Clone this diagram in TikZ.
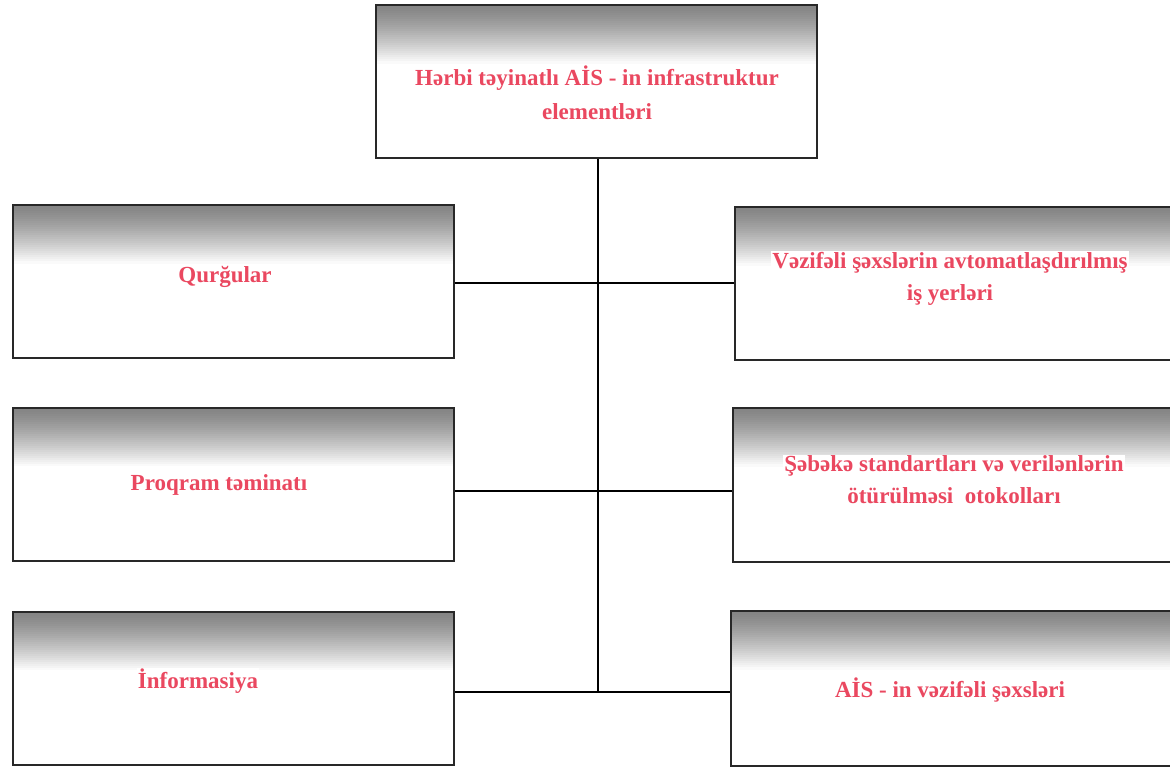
\documentclass[tikz,border=0pt]{standalone}
\usepackage{fontspec}
\setmainfont{Liberation Serif}
\definecolor{txtred}{RGB}{234,72,96}
\definecolor{edge}{RGB}{40,40,40}
\begin{document}
\begin{tikzpicture}[x=1pt,y=-1pt,
  box/.style={draw=edge,line width=2pt,rectangle,minimum width=441pt,minimum height=153pt,inner sep=0pt,
    path picture={\foreach \i in {0,...,28}{
        \pgfmathsetmacro{\p}{max(0,48*(1-(\i/29)^1.3))}
        \fill[black!\p] ([yshift={-2*\i*1pt}]path picture bounding box.north west)
          rectangle ([yshift={-2*\i*1pt-2.6pt}]path picture bounding box.north east);}}},
  lbl/.style={text=txtred,font=\fontsize{23}{32}\selectfont\bfseries,align=center,fill=white,inner sep=1pt},
  conn/.style={draw=black,line width=1.5pt}]
\useasboundingbox (0,0) rectangle (1170,769);
\node[box] (top) at (596.5,81.5) {};
\node[box] (l1) at (233.5,281.5) {};
\node[box] (l2) at (233.5,484) {};
\node[box] (l3) at (233.5,688) {};
\node[box,minimum width=441pt,minimum height=153pt] (r1) at (955.5,283.5) {};
\node[box,minimum width=443pt,minimum height=154pt] (r2) at (954.5,485) {};
\node[box,minimum width=446pt,minimum height=155pt] (r3) at (954,688.5) {};
\node[lbl,font=\fontsize{23}{34}\selectfont\bfseries] (ttop) at (597,93) {Hərbi təyinatlı AİS - in infrastruktur\\elementləri};
\node[lbl] (tl1) at (225,277) {Qurğular};
\node[lbl] (tl2) at (219,485) {Proqram təminatı};
\node[lbl] (tl3) at (198,681) {İnformasiya};
\node[lbl] (tr1) at (950,279) {Vəzifəli şəxslərin avtomatlaşdırılmış\\iş yerləri};
\node[lbl] (tr2) at (954,480) {Şəbəkə standartları və verilənlərin\\ötürülməsi\ \ otokolları};
\node[lbl] (tr3) at (950,690) {AİS - in vəzifəli şəxsləri};
\coordinate (j1) at (598,283);
\coordinate (j2) at (598,491);
\coordinate (j3) at (598,692);
\draw[conn] (top.south -| j1) -- (j3);
\draw[conn] (l1.east |- j1) -- (r1.west |- j1);
\draw[conn] (l2.east |- j2) -- (r2.west |- j2);
\draw[conn] (l3.east |- j3) -- (r3.west |- j3);
\end{tikzpicture}
\end{document}
